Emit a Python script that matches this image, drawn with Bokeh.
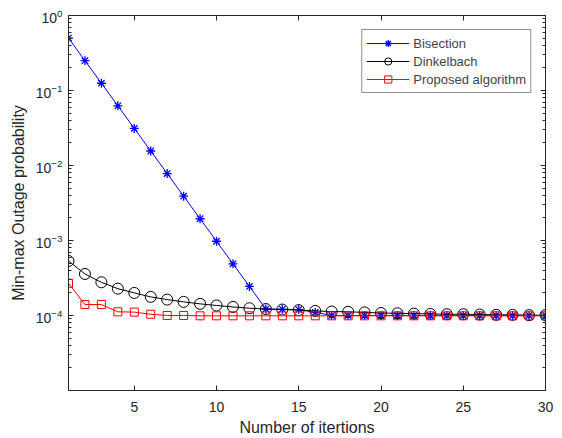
from bokeh.plotting import figure
from bokeh.models import Range1d, FixedTicker, LinearAxis, LogAxis, Legend, LegendItem
from bokeh.embed import file_html
from bokeh.resources import INLINE

iterations = list(range(1, 31))
bisection = [0.5, 0.25, 0.125, 0.0625, 0.03125, 0.0156, 0.0078, 0.0039, 0.00195,
             0.000977, 0.000488, 0.000244, 1.22e-4, 1.21e-4, 1.20e-4, 1.10e-4,
             1.0e-4, 1.0e-4, 1.0e-4, 1.0e-4, 1.0e-4, 1.0e-4, 1.0e-4, 1.0e-4,
             1.0e-4, 1.0e-4, 1.0e-4, 1.0e-4, 1.0e-4, 1.0e-4]
dinkelbach = [5.33e-4, 3.58e-4, 2.77e-4, 2.28e-4, 2.0e-4, 1.77e-4, 1.63e-4, 1.52e-4,
              1.43e-4, 1.36e-4, 1.30e-4, 1.25e-4, 1.22e-4, 1.20e-4, 1.18e-4, 1.15e-4,
              1.13e-4, 1.12e-4, 1.10e-4, 1.08e-4, 1.07e-4, 1.06e-4, 1.05e-4, 1.04e-4,
              1.04e-4, 1.03e-4, 1.02e-4, 1.02e-4, 1.01e-4, 1.01e-4]
proposed = [2.69e-4, 1.40e-4, 1.40e-4, 1.12e-4, 1.11e-4, 1.04e-4, 1.0e-4, 1.0e-4,
            0.99e-4, 0.99e-4, 0.99e-4, 0.99e-4, 0.99e-4, 0.99e-4, 0.99e-4, 0.99e-4,
            0.99e-4, 0.99e-4, 0.99e-4, 0.99e-4, 0.99e-4, 0.99e-4, 0.99e-4, 0.99e-4,
            0.99e-4, 0.99e-4, 0.99e-4, 0.99e-4, 0.99e-4, 0.99e-4]
x_ticks = [5, 10, 15, 20, 25, 30]
y_ticks = [1e-4, 1e-3, 1e-2, 1e-1, 1e0]
y_minor = [m * 10.0 ** e for e in range(-5, 0) for m in range(2, 10)]

FONT = "Liberation Sans"
AX = "#262626"

p = figure(width=562, height=438, output_backend="svg", toolbar_location=None,
           y_axis_type="log", x_range=Range1d(1, 30), y_range=Range1d(1e-5, 1),
           min_border_left=68, min_border_right=17, min_border_top=15, min_border_bottom=47)
p.xgrid.visible = False
p.ygrid.visible = False
p.outline_line_color = AX
p.outline_line_width = 1

def style(ax, labels=True):
    ax.axis_line_color = AX
    ax.major_tick_line_color = AX
    ax.minor_tick_line_color = AX
    ax.major_tick_in = 5
    ax.major_tick_out = 0
    ax.minor_tick_in = 3
    ax.minor_tick_out = 0
    ax.major_label_text_font = FONT
    ax.major_label_text_font_size = "14px"
    ax.major_label_text_color = "#262626" if labels else None
    ax.axis_label_text_font = FONT
    ax.axis_label_text_font_size = "16px"
    ax.axis_label_text_font_style = "normal"
    ax.axis_label_text_color = "#262626"

xt = FixedTicker(ticks=x_ticks, minor_ticks=[])
yt = FixedTicker(ticks=y_ticks, minor_ticks=y_minor)
p.xaxis.ticker = xt
p.yaxis.ticker = yt
p.xaxis.axis_label = "Number of itertions"
p.yaxis.axis_label = "Min-max Outage probability"
style(p.xaxis[0])
style(p.yaxis[0])
p.xaxis.major_label_standoff = 11
p.xaxis.axis_label_standoff = 4
p.yaxis.major_label_standoff = 6
p.yaxis.axis_label_standoff = 6

top = LinearAxis(ticker=xt, major_label_standoff=0)
style(top, labels=False)
top.major_label_text_font_size = "0px"
right = LogAxis(ticker=yt, major_label_standoff=0)
style(right, labels=False)
right.major_label_text_font_size = "0px"
p.add_layout(top, "above")
p.add_layout(right, "right")

l1 = p.line(iterations, bisection, line_color="#0000ff", line_width=1)
s1 = p.scatter(iterations, bisection, marker="asterisk", size=9, line_color="#0000ff", line_width=1.3)
l2 = p.line(iterations, dinkelbach, line_color="black", line_width=1)
s2 = p.scatter(iterations, dinkelbach, marker="circle", size=11, line_color="black", fill_color=None, line_width=1)
l3 = p.line(iterations, proposed, line_color="#ff0000", line_width=1)
s3 = p.scatter(iterations, proposed, marker="square", size=8, line_color="#ff0000", fill_color=None, line_width=1)

legend = Legend(items=[LegendItem(label="Bisection", renderers=[l1, s1]),
                       LegendItem(label="Dinkelbach", renderers=[l2, s2]),
                       LegendItem(label="Proposed algorithm", renderers=[l3, s3])],
                location="top_right", margin=14, padding=4, spacing=0,
                label_text_font=FONT, label_text_font_size="13px",
                label_height=18, glyph_height=18, glyph_width=43, label_standoff=4,
                border_line_color="#262626", border_line_width=1,
                background_fill_color="white", background_fill_alpha=1)
p.add_layout(legend)

open("out.html", "w").write(file_html(p, INLINE))
